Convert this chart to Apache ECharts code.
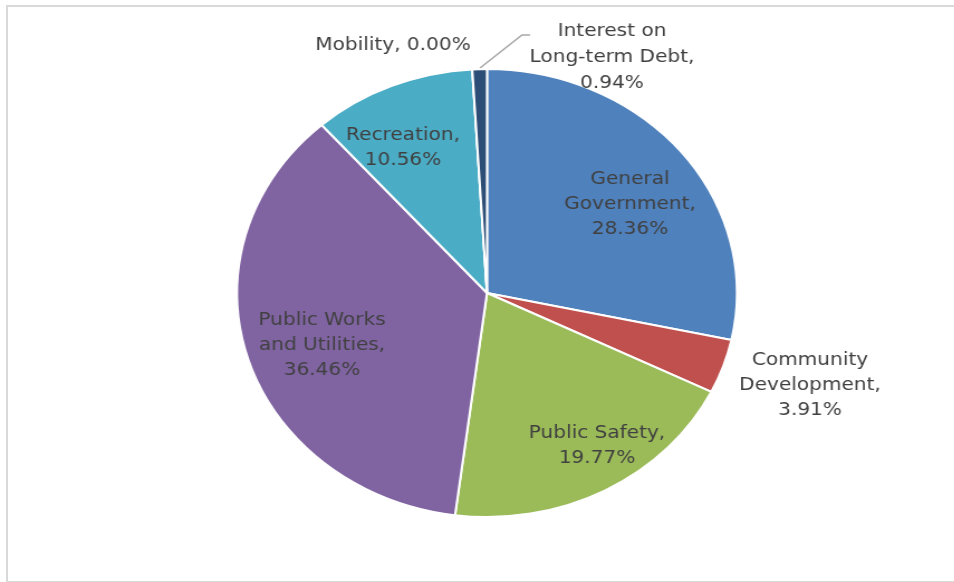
<!DOCTYPE html>
<html>
<head>
<meta charset="utf-8">
<script src="https://cdn.jsdelivr.net/npm/echarts@6/dist/echarts.min.js"></script>
<style>
  html, body { margin: 0; padding: 0; background: #fff; overflow: hidden; }
  #frame { position: absolute; left: 6px; top: 5px; width: 960px; height: 574px; border: 2px solid #d9d9d9; box-sizing: content-box; }
  #chart { position: absolute; left: 0; top: 0; width: 855px; height: 582px; transform: scaleX(1.116); transform-origin: 0 0; }
</style>
</head>
<body>
<div id="frame"></div>
<div id="chart"></div>
<script>
// Data
const categories = ['General Government', 'Community Development', 'Public Safety', 'Public Works and Utilities', 'Recreation', 'Mobility', 'Interest on Long-term Debt'];
const values = [28.36, 3.91, 19.77, 36.46, 10.56, 0.00, 0.94];
const labelTexts = [
  'General\nGovernment,\n28.36%',
  'Community\nDevelopment,\n3.91%',
  'Public Safety,\n19.77%',
  'Public Works\nand Utilities,\n36.46%',
  'Recreation,\n10.56%',
  'Mobility, 0.00%',
  'Interest on\nLong-term Debt,\n0.94%'
];
const colors = ['#4F81BD', '#C0504D', '#9BBB59', '#8064A2', '#4BACC6', '#F79646', '#2C4D75'];

// Layout (screen px), converted to chart px through the horizontal stretch
const SX = 1.116;
const labelPos = [[630, 204], [810, 385], [597, 446], [322, 345], [403, 148], [393, 45], [612, 57]];
const interestLine = [[480, 68], [522, 35], [530, 35]];

const chart = echarts.init(document.getElementById('chart'), null, { renderer: 'canvas' });
chart.setOption({
  animation: false,
  backgroundColor: 'transparent',
  series: [{
    type: 'pie',
    center: [487 / SX, 293],
    radius: 224,
    startAngle: 90,
    clockwise: true,
    avoidLabelOverlap: false,
    minAngle: 0,
    itemStyle: { borderColor: '#ffffff', borderWidth: 2 },
    label: {
      show: true,
      position: 'inside',
      color: '#404040',
      fontFamily: 'DejaVu Sans',
      fontSize: 18,
      lineHeight: 25,
      align: 'center',
      formatter: p => labelTexts[p.dataIndex]
    },
    labelLine: { show: false },
    emphasis: { disabled: true },
    labelLayout: function (params) {
      const i = params.dataIndex;
      const res = {
        x: labelPos[i][0] / SX,
        y: labelPos[i][1],
        align: 'center',
        verticalAlign: 'middle'
      };
      if (i === 6) {
        res.labelLinePoints = interestLine.map(p => [p[0] / SX, p[1]]);
      }
      return res;
    },
    data: categories.map((c, i) => ({
      name: c,
      value: values[i],
      itemStyle: { color: colors[i] },
      label: i >= 5 ? { position: 'outside', lineHeight: 26 } : {},
      labelLine: i === 6 ? { show: true, lineStyle: { color: '#a6a6a6', width: 1.5 } } : { show: false }
    }))
  }]
});
</script>
</body>
</html>
